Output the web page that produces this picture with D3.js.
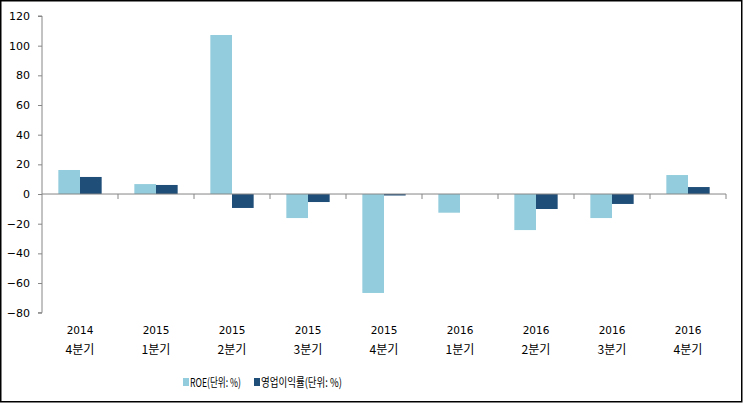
<!DOCTYPE html>
<html><head><meta charset="utf-8">
<script src="https://cdn.jsdelivr.net/npm/d3@7/dist/d3.min.js"></script>
<style>body{margin:0;background:#fff}svg{display:block}text{font-family:"DejaVu Sans","Noto Sans CJK KR",sans-serif}.kr{font-family:"Noto Sans CJK KR",sans-serif}</style>
</head><body><svg id="c" width="743" height="403"></svg>
<script>
const years = ["2014","2015","2015","2015","2015","2016","2016","2016","2016"];
const quarters = ["4분기","1분기","2분기","3분기","4분기","1분기","2분기","3분기","4분기"];
const roe = [16.2, 6.7, 107.2, -16.2, -66.7, -12.6, -24.3, -16.2, 12.8];
const opMargin = [11.5, 6.1, -9.4, -5.4, -1.0, 0, -10.1, -6.7, 4.7];
const seriesNames = ["ROE(단위: %)", "영업이익률(단위: %)"];
const colors = ["#93CDDD", "#1F4E79"];
const yTicks = [-80,-60,-40,-20,0,20,40,60,80,100,120];

const svg = d3.select("#c");
svg.append("rect").attr("x",0.75).attr("y",0.75).attr("width",741).attr("height",401)
  .attr("fill","#fff").attr("stroke","#000").attr("stroke-width",1.5);

const pL = 42, pR = 726, pT = 16, pB = 312.7;
const idx = d3.range(years.length);
const x = d3.scaleBand().domain(idx).range([pL,pR]).paddingInner(0).paddingOuter(0);
const y = d3.scaleLinear().domain([-80,120]).range([pB,pT]);
const bw = x.bandwidth();
const barW = bw*0.285;
const grpOff = (bw - 2*barW)/2;

const data = [roe, opMargin];
data.forEach((s,si)=>{
  svg.append("g").selectAll("rect").data(s).join("rect")
    .attr("x",(d,i)=>x(i)+grpOff+si*barW)
    .attr("width",barW)
    .attr("y",d=>y(Math.max(0,d)))
    .attr("height",d=>Math.abs(y(d)-y(0)))
    .attr("fill",colors[si]);
});

// y axis
const ya = svg.append("g").attr("transform",`translate(${pL},0)`)
  .call(d3.axisLeft(y).tickValues(yTicks).tickSize(4).tickPadding(8).tickFormat(d3.format("d")));
ya.select(".domain").attr("stroke","#868686").attr("d",`M-4,${pT}H0V${pB}H-4`);
ya.selectAll(".tick line").attr("stroke","#868686");
ya.selectAll(".tick text").attr("font-size","11px").attr("fill","#000").attr("font-family","DejaVu Sans");

// x axis at 0
const xa = svg.append("g").attr("transform",`translate(0,${y(0)})`);
xa.append("line").attr("x1",pL).attr("x2",pR).attr("stroke","#868686").attr("stroke-width",1);
xa.selectAll("line.t").data(d3.range(1,years.length+1)).join("line").attr("class","t")
  .attr("x1",i=>pL+i*bw).attr("x2",i=>pL+i*bw).attr("y1",0).attr("y2",5).attr("stroke","#868686");

// category labels
const lab = svg.append("g");
lab.selectAll("text.yr").data(years).join("text").attr("class","yr")
  .attr("x",(d,i)=>x(i)+bw/2).attr("y",334).attr("text-anchor","middle")
  .attr("font-size","10.5px").text(d=>d);
lab.selectAll("text.q").data(quarters).join("text").attr("class","q kr")
  .attr("x",(d,i)=>x(i)+bw/2).attr("y",354).attr("text-anchor","middle")
  .attr("font-size","12px").attr("textLength",29).attr("lengthAdjust","spacingAndGlyphs").text(d=>d);

// legend
const lg = svg.append("g");
const lx = [183, 254];
const lw = [51, 81];
seriesNames.forEach((n,i)=>{
  lg.append("rect").attr("x",lx[i]).attr("y",378).attr("width",6).attr("height",8).attr("fill",colors[i]);
  lg.append("text").attr("class","kr").attr("x",lx[i]+7).attr("y",387).attr("font-size","12px")
    .attr("textLength",lw[i]).attr("lengthAdjust","spacingAndGlyphs").text(n);
});
</script></body></html>
